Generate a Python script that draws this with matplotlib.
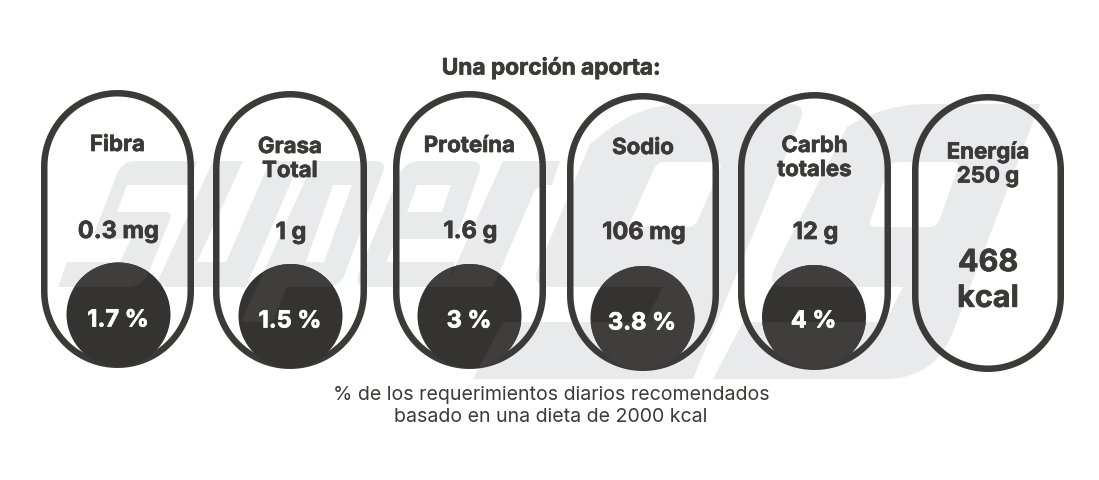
import numpy as np
import matplotlib
matplotlib.use("Agg")
import matplotlib.pyplot as plt
import matplotlib.patheffects as pe
from matplotlib.path import Path
from matplotlib.patches import PathPatch, Circle, Polygon

# ---- content ----
title = "Una porción aporta:"
names = ["Fibra", "Grasa\nTotal", "Proteína", "Sodio", "Carbh\ntotales", "Energía\n250 g"]
amounts = ["0.3 mg", "1 g", "1.6 g", "106 mg", "12 g", "468\nkcal"]
percents = [1.7, 1.5, 3, 3.8, 4]
footnote = "% de los requerimientos diarios recomendados\nbasado en una dieta de 2000 kcal"

# ---- layout (pixels) ----
W, H = 1099, 481
pill_box = [(41, 194, 91, 369), (213, 367, 92, 370), (393, 546, 92, 370),
            (567, 719, 94, 372), (738, 891, 93, 371), (912, 1064, 95, 373)]
circle_xy = [(118.5, 315.5), (290.5, 317), (469.5, 317), (642.5, 319), (814, 318)]
name_y = [146, 160, 147, 149, 159, 165]
amount_y = [233, 234, 233, 234, 234, 282]
pct_y = [321.5, 322.5, 322.5, 324.5, 322.5]
DARK = "#3b3a39"
GREY = "#e9eaec"

fig = plt.figure(figsize=(W / 100, H / 100), dpi=100, facecolor="white")
ax = fig.add_axes([0, 0, 1, 1])
ax.set_xlim(0, W)
ax.set_ylim(H, 0)
ax.axis("off")


def ring(pts):
    """Closed outline with optional corner radii -> vertices and codes."""
    pts = [p if len(p) == 3 else (p[0], p[1], 0) for p in pts]
    xy = np.array([p[:2] for p in pts], float)
    x, y = xy[:, 0], xy[:, 1]
    area = np.sum(x * np.roll(y, -1) - np.roll(x, -1) * y)
    v, c = [], []
    n = len(pts)
    for i in range(n):
        p, r = xy[i], pts[i][2]
        if r:
            a = xy[i - 1] - p
            b = xy[(i + 1) % n] - p
            s = p + a / np.linalg.norm(a) * r
            e = p + b / np.linalg.norm(b) * r
            v += [s, p, e]
            c += [Path.LINETO, Path.CURVE3, Path.CURVE3]
        else:
            v.append(p)
            c.append(Path.LINETO)
    c[0] = Path.MOVETO
    v.append(v[0])
    c.append(Path.CLOSEPOLY)
    return v, c, area


def shape(outer, *holes):
    v, c, a0 = ring(outer)
    for h in holes:
        vh, ch, a1 = ring(h)
        if a1 * a0 > 0:
            vh, ch, a1 = ring(h[::-1])
        v += vh
        c += ch
    return Path(np.array(v), c)


# Background wordmark outlines
wordmark = [
    shape([(197, 162), (190, 186), (127, 186), (117, 213), (173, 213, 8), (150, 270),
           (143, 288, 16), (58, 288), (67, 263), (120, 263), (131, 240),
           (92, 240, 10), (122, 162, 14)]),
    shape([(213, 162), (243, 162), (197, 263), (226, 263), (270, 162), (300, 162),
           (246, 288), (155, 288, 14)]),
    shape([(314, 162), (387, 162, 12), (340, 288, 14), (287, 288), (272, 323), (241, 323)],
          [(333, 186), (352, 186), (324, 263), (306, 263)]),
    shape([(405, 162, 15), (483, 162, 12), (456, 240, 12), (396, 240), (386, 263),
           (455, 263), (447, 288), (353, 288, 16)],
          [(417, 186), (451, 186), (442, 213), (407, 213)]),
    shape([(503, 162), (560, 162), (552, 186), (537, 186, 10), (493, 288), (446, 288)]),
    shape([(640, 105, 45), (807, 105, 18), (693, 380), (473, 380), (503, 323), (645, 323),
           (663, 288), (530, 288, 22), (590, 145)],
          [(657, 163, 8), (723, 163, 8), (695, 228, 8), (628, 228, 8)]),
    shape([(887, 105, 40), (1040, 105), (935, 380, 50), (713, 380), (743, 323),
           (885, 323), (903, 288), (765, 288, 22), (847, 128)],
          [(890, 163, 8), (960, 163, 8), (937, 228, 8), (868, 228, 8)]),
]
for p in wordmark:
    ax.add_patch(PathPatch(p, fc=GREY, ec="none", zorder=1))

# Pills
LW = 6.5
for (x0, x1, y0, y1) in pill_box:
    x0 += LW / 2; x1 -= LW / 2; y0 += LW / 2; y1 -= LW / 2
    r = (x1 - x0) / 2
    t = np.linspace(0, np.pi, 60)
    cx = (x0 + x1) / 2
    xs = np.r_[cx + r * np.cos(t), cx + r * np.cos(t + np.pi)]
    ys = np.r_[y0 + r - r * np.sin(t), y1 - r - r * np.sin(t + np.pi)]
    ax.add_patch(Polygon(np.c_[xs, ys], closed=True, fc="none", ec=DARK,
                         lw=LW * 0.72, zorder=2))

FONT = "Inter"


def bold(color):
    return [pe.withStroke(linewidth=0.5, foreground=color)]


# Circles with percent labels
for (cx, cy), val, y in zip(circle_xy, percents, pct_y):
    c = Circle((cx, cy), 52, fc="#343331", ec="none", zorder=3)
    ax.add_patch(c)
    for p in wordmark:
        q = PathPatch(p, fc="#3f3e3c", ec="none", zorder=4)
        ax.add_patch(q)
        q.set_clip_path(c)
    ax.text(cx - 0.5, y, f"{val:g} %", color="white", fontsize=17, fontweight="bold",
            family=FONT, ha="center", va="center", zorder=5, path_effects=bold("white"))

centres = [(b[0] + b[1]) / 2 for b in pill_box]
for cx, s, y in zip(centres, names, name_y):
    ax.text(cx, y, s, color=DARK, fontsize=16, fontweight="bold", family=FONT,
            ha="center", va="center", linespacing=1.25, zorder=5, path_effects=bold(DARK))
for i, (cx, s, y) in enumerate(zip(centres, amounts, amount_y)):
    big = i == 5
    ax.text(cx + (1 if not big else 0), y, s, color=DARK, fontsize=22 if big else 17,
            fontweight="bold", family=FONT, ha="center", va="center", linespacing=1.35,
            zorder=5, path_effects=bold(DARK))

ax.text(551, 69, title, color=DARK, fontsize=16.3, fontweight="bold", family=FONT,
        ha="center", va="center", zorder=5, path_effects=bold(DARK))
ax.text(551, 406, footnote, color=DARK, fontsize=14.1, family=FONT,
        ha="center", va="center", linespacing=1.25, zorder=5)

fig.savefig("out.png", dpi=100)
